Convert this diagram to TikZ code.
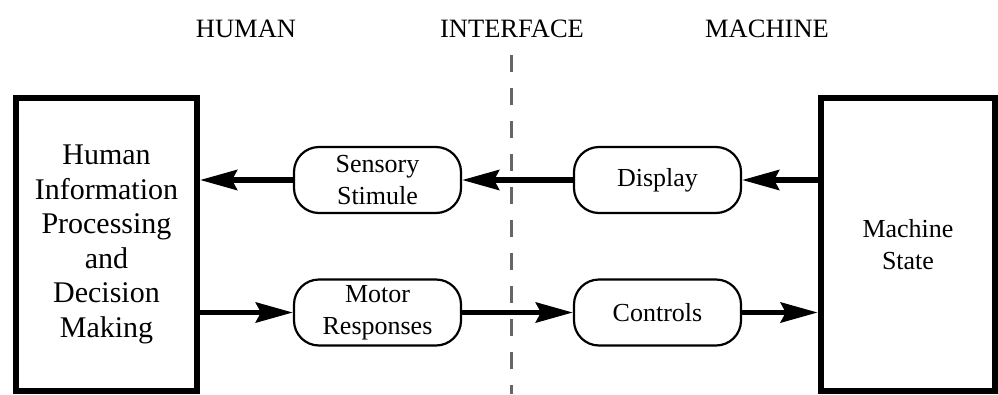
\documentclass[tikz,border=0pt]{standalone}
\usepackage{fontspec}
\setmainfont{Liberation Serif}
\usetikzlibrary{arrows.meta}
\begin{document}
\begin{tikzpicture}[x=1pt,y=-1pt,
  bigbox/.style={draw, line width=6pt, minimum width=181pt, minimum height=293pt, inner sep=0pt, align=center},
  roundbox/.style={draw, line width=2.2pt, rounded corners=25pt, minimum width=167pt, minimum height=66pt, inner sep=0pt, align=center, font=\fontsize{26}{32.5}\selectfont},
  header/.style={font=\fontsize{26.5}{30}\selectfont, inner sep=0pt},
  arr/.style={line width=5.5pt, -{Stealth[length=37pt,width=20pt,inset=5pt]}},
  sep/.style={draw=gray!80!black, line width=3pt, dash pattern=on 17pt off 16pt}
]
\useasboundingbox (0,0) rectangle (998,394);
% headers
\node[header] (hh) at (246,29) {HUMAN};
\node[header] (hi) at (512,29) {INTERFACE};
\node[header] (hm) at (767,29) {MACHINE};
% separator
\coordinate (st) at (511,55);
\coordinate (sb) at (511,394);
\draw[sep] (st) -- (sb);
% big boxes
\node[bigbox, font=\fontsize{30}{34.5}\selectfont] (human) at (106.5,244.5) {Human\\Information\\Processing\\and\\Decision\\Making};
\node[bigbox, minimum width=174.5pt, font=\fontsize{26}{32}\selectfont] (mach) at (908,244.5) {Machine\\State};
% rounded boxes
\node[roundbox] (sens) at (377.5,180) {Sensory\\Stimule};
\node[roundbox] (motor) at (377.5,312.5) {Motor\\Responses};
\node[roundbox] (disp) at (657.5,180) {Display};
\node[roundbox] (ctrl) at (657.5,312.5) {Controls};
% arrows
\draw[arr] (disp.east -| mach.west) -- (disp.east);
\draw[arr] (disp.west) -- (sens.east);
\draw[arr] (sens.west) -- (sens.west -| human.east);
\draw[arr] (motor.west -| human.east) -- (motor.west);
\draw[arr] (motor.east) -- (ctrl.west);
\draw[arr] (ctrl.east) -- (ctrl.east -| mach.west);
\end{tikzpicture}
\end{document}
